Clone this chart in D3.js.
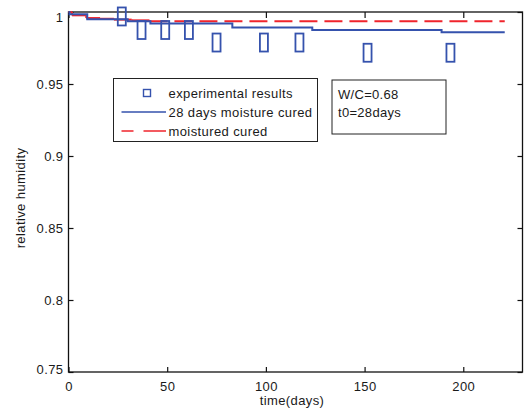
<!DOCTYPE html>
<html>
<head>
<meta charset="utf-8">
<script src="https://cdn.jsdelivr.net/npm/d3@7"></script>
<style>
  html, body { margin: 0; padding: 0; background: #fff; }
  svg { display: block; }
  text { font-family: "Liberation Sans", Arial, sans-serif; fill: #1a1a1a; }
</style>
</head>
<body>
<svg id="chart" width="525" height="412"></svg>
<script>
// Axis ticks
const dayTicks = [0, 50, 100, 150, 200];
const rhTicks = [0.75, 0.8, 0.85, 0.9, 0.95, 1];

// Experimental measurements
const expDays = [27, 37, 49, 61, 75, 99, 117, 151.5, 193.5];
const expRH = [0.9969, 0.9875, 0.9875, 0.9875, 0.9788, 0.9788, 0.9788, 0.9717, 0.9717];

// Model: 28 days moisture cured (stepwise)
const curedDays = [0, 0.5, 9.5, 30, 41.5, 83, 123.5, 189, 221];
const curedRH = [1.0, 0.9985, 0.9949, 0.9935, 0.992, 0.9892, 0.9875, 0.9859, 0.9859];

// Model: moistured cured (stepwise)
const moistDays = [0, 1.8, 9, 16, 23, 32, 41, 221];
const moistRH = [1.0, 0.9977, 0.9958, 0.9953, 0.9947, 0.9942, 0.9935, 0.9935];

// Legend entries and annotation
const legendLabels = ["experimental results", "28 days moisture cured", "moistured cured"];
const noteLines = ["W/C=0.68", "t0=28days"];

const blue = "#3552ad";
const red = "#f0242c";

const svg = d3.select("#chart");
const plotLeft = 68.5, plotRight = 522.5, plotTop = 12, plotBottom = 372;

const x = d3.scaleLinear().domain([0, 230]).range([plotLeft, plotRight]);
const y = d3.scaleLinear().domain([0.75, 1]).range([plotBottom, plotTop]);

// Axes with inward ticks on all four sides
const fontSize = "13px";
const gB = svg.append("g").attr("transform", `translate(0,${plotBottom})`)
  .call(d3.axisBottom(x).tickValues(dayTicks).tickSizeInner(-5).tickSizeOuter(0).tickPadding(10));
const gT = svg.append("g").attr("transform", `translate(0,${plotTop})`)
  .call(d3.axisTop(x).tickValues(dayTicks).tickSizeInner(-6).tickSizeOuter(0).tickFormat(""));
const gL = svg.append("g").attr("transform", `translate(${plotLeft},0)`)
  .call(d3.axisLeft(y).tickValues(rhTicks).tickSizeInner(-5).tickSizeOuter(0).tickPadding(5)
    .tickFormat(d => d === 1 ? "1" : d3.format("")(d)));
const gR = svg.append("g").attr("transform", `translate(${plotRight},0)`)
  .call(d3.axisRight(y).tickValues(rhTicks).tickSizeInner(-5).tickSizeOuter(0).tickFormat(""));

[gB, gT, gL, gR].forEach(g => {
  g.select(".domain").remove();
  g.selectAll("line").attr("stroke", "#111").attr("stroke-width", 1.2);
  g.selectAll("text").attr("font-size", fontSize).attr("fill", "#1a1a1a")
    .attr("font-family", "'Liberation Sans', Arial, sans-serif").style("letter-spacing", "0.4px");
});
// Top label sits just below the frame edge
gL.selectAll(".tick").filter(d => d === 1).select("text").attr("dy", "0.72em");
gL.selectAll(".tick").filter(d => d === 0.75).select("text").attr("dy", "0.1em");

// Plot frame
svg.append("rect")
  .attr("x", plotLeft).attr("y", plotTop)
  .attr("width", plotRight - plotLeft).attr("height", plotBottom - plotTop)
  .attr("fill", "none").attr("stroke", "#111").attr("stroke-width", 1.3);

// Axis titles
svg.append("text")
  .attr("x", 292).attr("y", 405)
  .attr("text-anchor", "middle").attr("font-size", fontSize)
  .style("letter-spacing", "0.4px")
  .text("time(days)");
svg.append("text")
  .attr("transform", "translate(25,198) rotate(-90)")
  .attr("text-anchor", "middle").attr("font-size", fontSize)
  .style("letter-spacing", "0.4px")
  .text("relative humidity");

// Step segments from a series
function stepSegments(days, vals) {
  const segs = [];
  for (let i = 0; i < days.length - 1; i++) {
    segs.push([[days[i], vals[i]], [days[i + 1], vals[i]]]);
    if (vals[i + 1] !== vals[i]) segs.push([[days[i + 1], vals[i]], [days[i + 1], vals[i + 1]]]);
  }
  return segs;
}
const line = d3.line().x(d => x(d[0])).y(d => y(d[1]));

// Moistured cured: dashed, pattern restarting at each vertex
svg.append("g").selectAll("path")
  .data(stepSegments(moistDays, moistRH))
  .join("path")
  .attr("d", line)
  .attr("fill", "none").attr("stroke", red).attr("stroke-width", 2)
  .attr("stroke-dasharray", "18,7");

// 28 days moisture cured: solid step line
svg.append("path")
  .datum(curedDays.map((d, i) => [d, curedRH[i]]))
  .attr("d", d3.line().x(d => x(d[0])).y(d => y(d[1])).curve(d3.curveStepAfter))
  .attr("fill", "none").attr("stroke", blue).attr("stroke-width", 2);

// Experimental markers
const mw = 8, mh = 18;
svg.append("g").selectAll("rect")
  .data(expDays.map((d, i) => [d, expRH[i]]))
  .join("rect")
  .attr("x", d => x(d[0]) - mw / 2)
  .attr("y", d => y(d[1]) - mh / 2)
  .attr("width", mw).attr("height", mh)
  .attr("fill", "none").attr("stroke", blue).attr("stroke-width", 1.8);

// Legend
const lg = svg.append("g");
lg.append("rect").attr("x", 113.5).attr("y", 78.5).attr("width", 204).attr("height", 63)
  .attr("fill", "#fff").attr("stroke", "#222").attr("stroke-width", 1);
const rowY = [93, 112, 131];
lg.append("rect").attr("x", 143.5).attr("y", rowY[0] - 3.5).attr("width", 7).attr("height", 7)
  .attr("fill", "none").attr("stroke", blue).attr("stroke-width", 1.4);
lg.append("line").attr("x1", 121.5).attr("x2", 166).attr("y1", rowY[1]).attr("y2", rowY[1])
  .attr("stroke", blue).attr("stroke-width", 1.3);
lg.append("line").attr("x1", 121.5).attr("x2", 166).attr("y1", rowY[2]).attr("y2", rowY[2])
  .attr("stroke", red).attr("stroke-width", 1.3).attr("stroke-dasharray", "12,10,30");
lg.selectAll("text.lbl").data(legendLabels).join("text")
  .attr("class", "lbl")
  .attr("x", 168.5).attr("y", (d, i) => rowY[i]).attr("dy", "0.35em")
  .attr("font-size", fontSize).style("letter-spacing", "0.4px")
  .text(d => d);

// Annotation box
const nb = svg.append("g");
nb.append("rect").attr("x", 332).attr("y", 80).attr("width", 114).attr("height", 54)
  .attr("fill", "#fff").attr("stroke", "#222").attr("stroke-width", 1);
nb.selectAll("text").data(noteLines).join("text")
  .attr("x", 338).attr("y", (d, i) => 94.5 + i * 17.5).attr("dy", "0.35em")
  .attr("font-size", fontSize).style("letter-spacing", "0.3px")
  .text(d => d);
</script>
</body>
</html>
